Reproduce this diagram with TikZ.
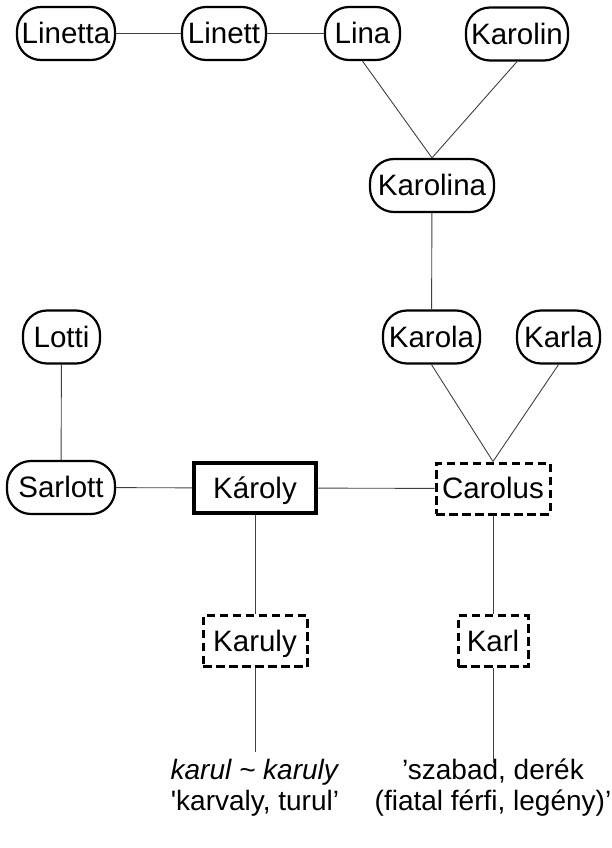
\documentclass[tikz,border=0pt]{standalone}
\usepackage{fontspec}
\setmainfont{Liberation Sans}
\begin{document}
\begin{tikzpicture}[x=1pt,y=-1pt,
  every node/.style={font=\fontsize{29.5}{31}\selectfont, inner sep=0pt},
  namebox/.style={text height=22pt, text depth=1.5pt},
  rnode/.style={namebox, draw, line width=2.2pt, rounded corners=24pt, minimum height=53pt},
  mainbox/.style={namebox, draw, line width=3.5pt, minimum height=50pt, minimum width=122pt},
  dbox/.style={namebox, draw, line width=3pt, dash pattern=on 8.5pt off 4.5pt, minimum height=51pt},
  conn/.style={line width=0.9pt, black!75},
  gloss/.style={align=center, font=\fontsize{28}{31}\selectfont}]
\useasboundingbox (0,0) rectangle (612,848);
\node[rnode, minimum width=98pt] (linetta) at (66,33.5) {Linetta};
\node[rnode, minimum width=84pt] (linett) at (224,33.5) {Linett};
\node[rnode, minimum width=75pt] (lina) at (362.5,33.5) {Lina};
\node[rnode, minimum width=102pt] (karolin) at (517,34) {Karolin};
\node[rnode, minimum width=124pt] (karolina) at (432,185.5) {Karolina};
\node[rnode, minimum width=97pt] (karola) at (431.5,337) {Karola};
\node[rnode, minimum width=83pt] (karla) at (558.5,337) {Karla};
\node[rnode, minimum width=77pt] (lotti) at (61.5,337) {Lotti};
\node[rnode, minimum width=108pt] (sarlott) at (61,487.5) {Sarlott};
\node[mainbox] (karoly) at (255,488) {Károly};
\node[dbox, minimum width=114pt] (carolus) at (493,488.5) {Carolus};
\node[dbox, minimum width=104pt] (karuly) at (255,641) {Karuly};
\node[dbox, minimum width=70pt] (karl) at (493,641) {Karl};
\coordinate (endl) at (255,752);
\coordinate (endr) at (493,763);
\node[gloss] (glossl) at (255,788) {\textit{karul \textasciitilde{} karuly}\\\textquotesingle karvaly, turul’};
\node[gloss] (glossr) at (493,788) {’szabad, derék\\(fiatal férfi, legény)’};
\draw[conn] (linetta) -- (linett);
\draw[conn] (linett) -- (lina);
\draw[conn] (lina.south) -- (karolina.north);
\draw[conn] (karolin.south) -- (karolina.north);
\draw[conn] (karolina) -- (karola);
\draw[conn] (karola.south) -- (carolus.north);
\draw[conn] (karla.south) -- (carolus.north);
\draw[conn] (lotti) -- (sarlott);
\draw[conn] (sarlott) -- (karoly);
\draw[conn] (karoly) -- (carolus);
\draw[conn] (karoly) -- (karuly);
\draw[conn] (carolus) -- (karl);
\draw[conn] (karuly) -- (endl);
\draw[conn] (karl) -- (endr);
\end{tikzpicture}
\end{document}
